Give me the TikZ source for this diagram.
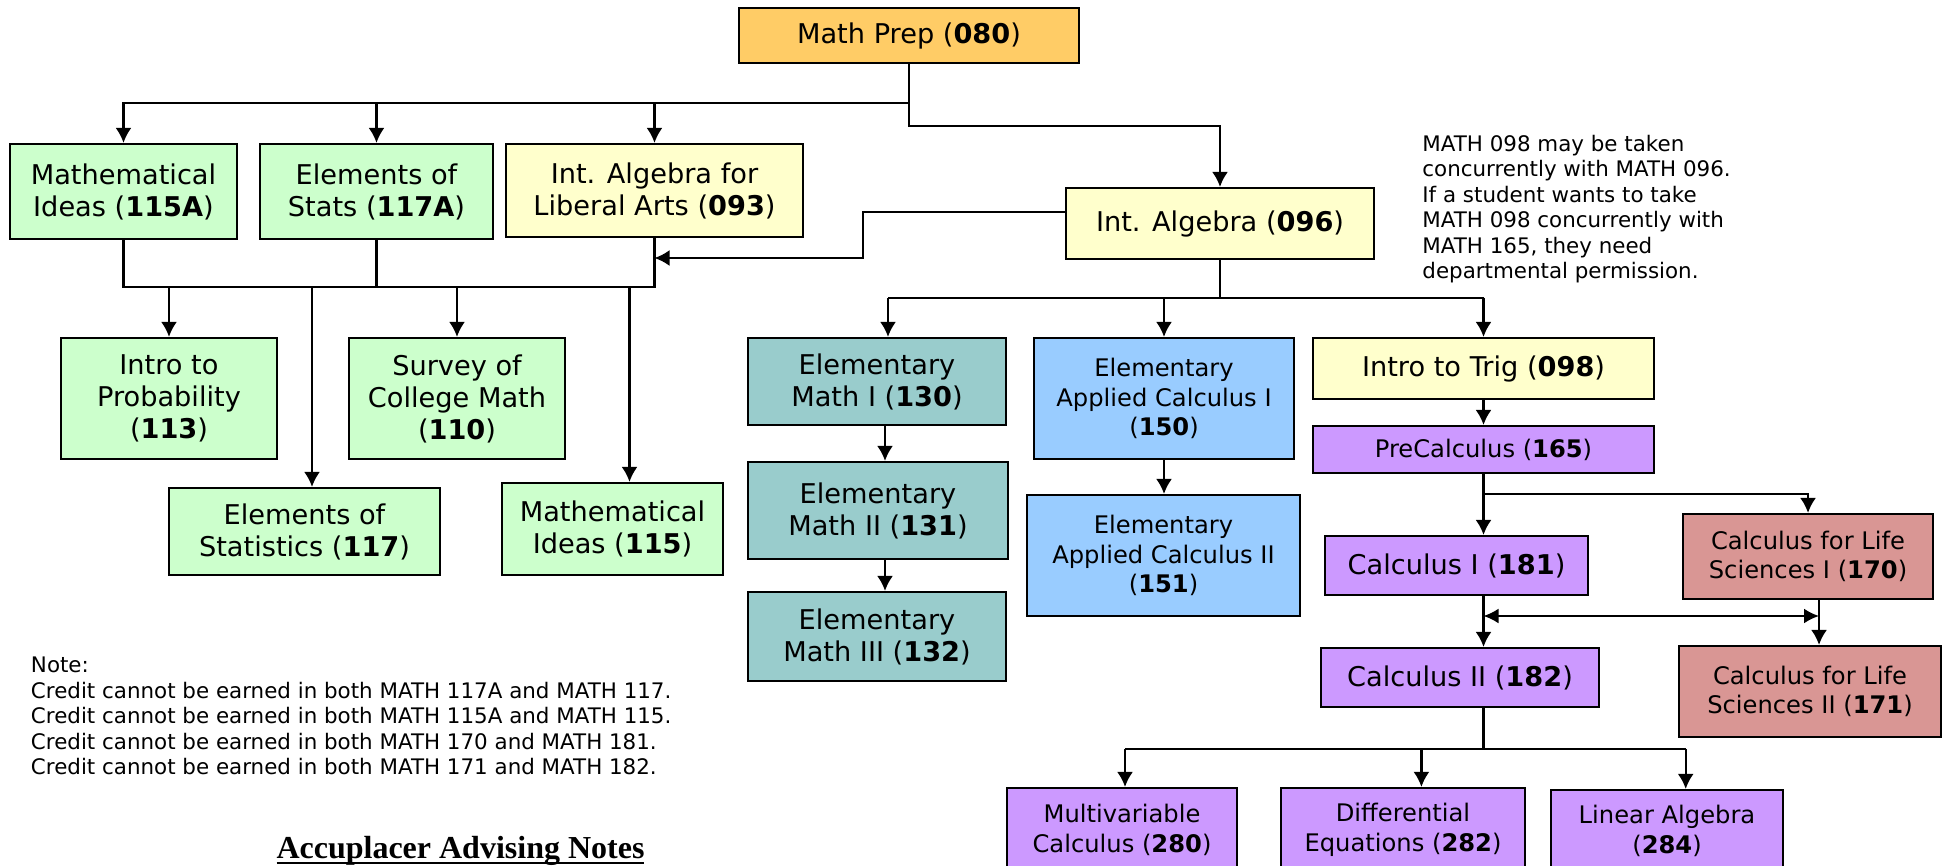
\documentclass[tikz,border=0pt]{standalone}
\usepackage{fontspec}
\setmainfont{DejaVu Sans}
\newfontfamily\serifhead{Liberation Serif}
\usetikzlibrary{arrows.meta}
\definecolor{cprep}{HTML}{FFCC66}
\definecolor{cgreen}{HTML}{CCFFCC}
\definecolor{cyellow}{HTML}{FFFFCC}
\definecolor{cteal}{HTML}{99CCCC}
\definecolor{cblue}{HTML}{99CCFF}
\definecolor{cpurple}{HTML}{CC99FF}
\definecolor{crose}{HTML}{D99694}
\newcommand\myul[1]{\setbox0=\hbox{#1}\rlap{\vrule width\wd0 height -2pt depth 3.1pt}\box0}
\begin{document}
\begin{tikzpicture}[x=0.5pt,y=-0.5pt,
 box/.style={draw=black, line width=1.1pt, inner sep=0pt, align=center, font=\fontsize{13.6}{16}\selectfont},
 sbox/.style={box, font=\fontsize{12.1}{14.7}\selectfont},
 wh/.style 2 args={minimum width={#1*0.5pt}, minimum height={#2*0.5pt}},
 conn/.style={line width=1.1pt},
 arr/.style={conn, -{Latex[length=7.5pt,width=8pt]}},
 darr/.style={conn, {Latex[length=7.5pt,width=7.5pt]}-{Latex[length=7.5pt,width=7.5pt]}},
 txt/.style={anchor=west, align=left, inner sep=0pt, font=\fontsize{10.7}{12.75}\selectfont}
]
\useasboundingbox (0,0) rectangle (1946,866);
\clip (0,0) rectangle (1946,866);

\node[box, fill=cprep, wh={340}{55}] (prep) at (909,35.5) {Math Prep (\textbf{080})};
\node[box, fill=cgreen, wh={227}{95}] (mi115a) at (123.5,191.5) {Mathematical\\Ideas (\textbf{115A})};
\node[box, fill=cgreen, wh={233}{95}] (es117a) at (376.5,191.5) {Elements of\\Stats (\textbf{117A})};
\node[box, fill=cyellow, wh={297}{93}] (ila093) at (654.5,190.5) {Int. Algebra for\\Liberal Arts (\textbf{093})};
\node[box, fill=cyellow, wh={308}{71}] (ia096) at (1220,223.5) {Int. Algebra (\textbf{096})};
\node[box, fill=cgreen, wh={216}{121}] (prob113) at (169,398.5) {Intro to\\Probability\\(\textbf{113})};
\node[box, fill=cgreen, wh={216}{121}] (survey110) at (457,398.5) {Survey of\\College Math\\(\textbf{110})};
\node[box, fill=cgreen, wh={271}{87}] (stat117) at (304.5,531.5) {Elements of\\Statistics (\textbf{117})};
\node[box, fill=cgreen, wh={221}{92}] (mi115) at (612.5,529) {Mathematical\\Ideas (\textbf{115})};
\node[box, fill=cteal, wh={258}{87}] (em130) at (877,381.5) {Elementary\\Math I (\textbf{130})};
\node[box, fill=cteal, wh={260}{97}] (em131) at (878,510.5) {Elementary\\Math II (\textbf{131})};
\node[box, fill=cteal, wh={258}{89}] (em132) at (877,636.5) {Elementary\\Math III (\textbf{132})};
\node[sbox, fill=cblue, wh={260}{121}] (eac150) at (1164,398.5) {Elementary\\Applied Calculus I\\(\textbf{150})};
\node[sbox, fill=cblue, wh={273}{121}] (eac151) at (1163.5,555.5) {Elementary\\Applied Calculus II\\(\textbf{151})};
\node[box, fill=cyellow, wh={341}{61}] (trig098) at (1483.5,368.5) {Intro to Trig (\textbf{098})};
\node[sbox, fill=cpurple, wh={341}{47}] (pre165) at (1483.5,449.5) {PreCalculus (\textbf{165})};
\node[box, fill=cpurple, wh={263}{59}] (c181) at (1456.5,565.5) {Calculus I (\textbf{181})};
\node[sbox, fill=crose, wh={250}{85}] (cls170) at (1808,556.5) {Calculus for Life\\Sciences I (\textbf{170})};
\node[box, fill=cpurple, wh={278}{59}] (c182) at (1460,677.5) {Calculus II (\textbf{182})};
\node[sbox, fill=crose, wh={262}{91}] (cls171) at (1810,691.5) {Calculus for Life\\Sciences II (\textbf{171})};
\node[sbox, fill=cpurple, wh={230}{84}] (mc280) at (1122,830) {Multivariable\\Calculus (\textbf{280})};
\node[sbox, fill=cpurple, wh={244}{84}] (de282) at (1403,830) {Differential\\Equations (\textbf{282})};
\node[sbox, fill=cpurple, wh={232}{82}] (la284) at (1667,831) {Linear Algebra\\(\textbf{284})};

\node[txt] (note1) at (1422,209) {MATH 098 may be taken\\concurrently with MATH 096.\\If a student wants to take\\MATH 098 concurrently with\\MATH 165, they need\\departmental permission.};
\node[txt] (note2) at (30.6,716) {Note:\\Credit cannot be earned in both MATH 117A and MATH 117.\\Credit cannot be earned in both MATH 115A and MATH 115.\\Credit cannot be earned in both MATH 170 and MATH 181.\\Credit cannot be earned in both MATH 171 and MATH 182.};
\node[anchor=base, inner sep=0pt, font=\serifhead\bfseries\fontsize{16}{19}\selectfont] (acc) at (460.5,858) {\myul{Accuplacer Advising Notes}};

\coordinate (b1) at (909,103);
\coordinate (b2) at (909,126);
\coordinate (b3) at (0,287);
\coordinate (b4) at (0,297.7);
\coordinate (b5) at (0,494);
\coordinate (b6) at (0,616);
\coordinate (b7) at (0,749.3);

\draw[arr] (prep.south) -- (b1) -| (mi115a.north);
\draw[arr] (b1) -| (es117a.north);
\draw[arr] (b1) -| (ila093.north);
\draw[arr] (b1) -- (b2) -| (ia096.north);

\coordinate (ja) at (863,212);
\coordinate (jb) at (863,258);
\coordinate (jc) at (654.5,258);
\draw[arr] (ia096.west |- ja) -- (ja) -- (jb) -- (jc);

\draw[conn] (mi115a.south) -- (mi115a.south |- b3) -- (ila093.south |- b3) -- (ila093.south);
\draw[conn] (es117a.south) -- (es117a.south |- b3);
\draw[arr] (prob113.north |- b3) -- (prob113.north);
\draw[arr] (survey110.north |- b3) -- (survey110.north);
\coordinate (s1) at (312,287);
\draw[arr] (s1) -- (s1 |- stat117.north);
\coordinate (s2) at (629.5,287);
\draw[arr] (s2) -- (s2 |- mi115.north);

\draw[conn] (ia096.south) -- (ia096.south |- b4);
\coordinate (e1) at (888,297.7);
\draw[conn] (e1) -- (trig098.north |- b4);
\draw[arr] (e1) -- (e1 |- em130.north);
\draw[arr] (eac150.north |- b4) -- (eac150.north);
\draw[arr] (trig098.north |- b4) -- (trig098.north);
\coordinate (e2) at (885,0);
\draw[arr] (e2 |- em130.south) -- (e2 |- em131.north);
\draw[arr] (e2 |- em131.south) -- (e2 |- em132.north);
\draw[arr] (eac150.south) -- (eac150.south |- eac151.north);
\draw[arr] (trig098.south) -- (pre165.north);
\draw[arr] (pre165.south) -- (pre165.south |- c181.north);
\draw[arr] (pre165.south |- b5) -| (cls170.north);
\draw[arr] (pre165.south |- c181.south) -- (pre165.south |- c182.north);
\coordinate (e3) at (1819,0);
\draw[arr] (e3 |- cls170.south) -- (e3 |- cls171.north);
\draw[darr] (pre165.south |- b6) -- (e3 |- b6);
\draw[conn] (pre165.south |- c182.south) -- (pre165.south |- b7);
\coordinate (f1) at (1125,749.3);
\coordinate (f2) at (1421.4,749.3);
\coordinate (f3) at (1685.7,749.3);
\draw[conn] (f1) -- (f3);
\draw[arr] (f1) -- (f1 |- mc280.north);
\draw[arr] (f2) -- (f2 |- de282.north);
\draw[arr] (f3) -- (f3 |- la284.north);
\end{tikzpicture}
\end{document}
